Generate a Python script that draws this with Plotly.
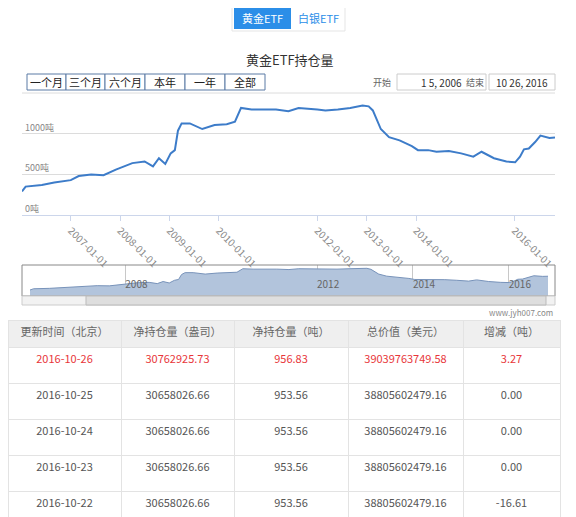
import plotly.graph_objects as go

dates = ["2006-01-05","2006-02-01","2006-06-01","2006-09-01","2007-01-01","2007-03-01","2007-06-01","2007-09-01",
 "2007-12-01","2008-02-01","2008-04-01","2008-07-01","2008-09-01","2008-10-15","2008-12-01","2009-01-10","2009-02-10",
 "2009-03-05","2009-04-01","2009-06-01","2009-09-01","2009-12-01","2010-03-01","2010-05-01","2010-06-15","2010-09-01",
 "2011-03-01","2011-06-01","2011-08-15","2012-01-01","2012-03-01","2012-06-01","2012-09-01","2012-12-01","2013-01-15",
 "2013-02-15","2013-04-15","2013-06-15","2013-09-01","2013-12-01","2014-01-15","2014-04-01","2014-06-01","2014-09-01",
 "2014-12-01","2015-03-01","2015-05-01","2015-08-01","2015-11-01","2016-01-05","2016-02-10","2016-03-10","2016-04-15",
 "2016-06-01","2016-07-10","2016-09-15","2016-10-26"]
values = [290,350,370,400,430,480,500,490,560,600,640,660,600,700,630,760,800,1040,1130,1130,1060,1110,1120,1150,
 1320,1300,1300,1280,1320,1300,1290,1300,1320,1350,1340,1290,1060,960,920,850,800,800,780,790,760,720,780,700,660,
 650,720,810,820,900,980,950,957]
tick_dates = ["2007-01-01","2008-01-01","2009-01-01","2010-01-01","2012-01-01","2013-01-01","2014-01-01","2016-01-01"]
y_ticks = [0, 500, 1000]
y_labels = ["0吨", "500吨", "1000吨"]
nav_ticks = ["2006-01-01","2008-01-01","2012-01-01","2014-01-01","2016-01-01"]
nav_labels = ["2006","2008","2012","2014","2016"]
headers = ["更新时间（北京）","净持仓量（盎司）","净持仓量（吨）","总价值（美元）","增减（吨）"]
col_date = ["2016-10-26","2016-10-25","2016-10-24","2016-10-23","2016-10-22"]
col_oz = ["30762925.73","30658026.66","30658026.66","30658026.66","30658026.66"]
col_t = ["956.83","953.56","953.56","953.56","953.56"]
col_usd = ["39039763749.58","38805602479.16","38805602479.16","38805602479.16","38805602479.16"]
col_chg = ["3.27","0.00","0.00","0.00","-16.61"]

OFF = 8
W, H = 576 - 2 * OFF, 517 - OFF
def py(v): return 1 - (v - OFF) / H
def px(v): return (v - OFF) / W

fig = go.Figure()
fig.add_trace(go.Scatter(x=dates, y=values, mode="lines", line=dict(color="#3d7cc9", width=2),
                         xaxis="x", yaxis="y", showlegend=False))
fig.add_trace(go.Scatter(x=dates, y=values, mode="lines", fill="tozeroy", fillcolor="#b2c4dc",
                         line=dict(color="#7893ba", width=1), xaxis="x2", yaxis="y2", showlegend=False))
font_color = ["#e8363a"] + ["#555"] * 4
fig.add_trace(go.Table(
    domain=dict(x=[0, px(560)], y=[0, py(320)]),
    columnwidth=[113, 113, 114, 115, 97],
    header=dict(values=headers, fill_color="#efefef", line_color="#e3e3e3", height=27,
                font=dict(size=11, color="#666", family="Noto Sans CJK SC")),
    cells=dict(values=[col_date, col_oz, col_t, col_usd, col_chg], fill_color="white", line_color="#e3e3e3",
               height=36, font=dict(size=11, color=[font_color] * 5, family="Noto Sans CJK SC"))))

fig.update_layout(
    width=W, height=H, margin=dict(l=0, r=0, t=0, b=0), paper_bgcolor="white", plot_bgcolor="white",
    font=dict(family="Noto Sans CJK SC", color="#666"),
    xaxis=dict(domain=[px(22), px(555)], type="date", range=["2006-01-05", "2016-10-26"], tickvals=tick_dates,
               tickformat="%Y-%m-%d", tickangle=45, tickfont=dict(size=10, color="#888"), showgrid=False,
               showline=True, linecolor="#ccd6eb", ticks="outside", tickcolor="#ccd6eb", ticklen=5),
    yaxis=dict(domain=[py(215), py(95)], range=[0, 1480], tickvals=y_ticks, ticktext=y_labels,
               ticklabelposition="inside top", tickfont=dict(size=9, color="#888"), gridcolor="#dcdcdc",
               zeroline=False),
    xaxis2=dict(domain=[px(30), px(548)], anchor="y2", type="date", range=["2006-01-05", "2016-10-26"],
                tickvals=nav_ticks, ticktext=nav_labels, ticklabelposition="inside right",
                tickfont=dict(size=10, color="#666"), showgrid=True, gridcolor="#c8c8c8", showline=False),
    yaxis2=dict(domain=[py(296), py(265)], range=[0, 1500], visible=False),
)
shapes = [
    dict(type="rect", xref="paper", yref="paper", x0=px(232), x1=px(345), y0=py(31), y1=py(6),
         line=dict(color="#e5e5e5", width=1), fillcolor="white", layer="below"),
    dict(type="rect", xref="paper", yref="paper", x0=px(234), x1=px(291), y0=py(29), y1=py(8),
         line=dict(width=0), fillcolor="#2b8ee8"),
    dict(type="line", xref="paper", yref="paper", x0=px(22), x1=px(555), y0=py(93), y1=py(93),
         line=dict(color="#dcdcdc", width=1)),
    dict(type="rect", xref="paper", yref="paper", x0=px(22), x1=px(555), y0=py(296), y1=py(265),
         line=dict(color="#888", width=1)),
    dict(type="rect", xref="paper", yref="paper", x0=px(22), x1=px(555), y0=py(305), y1=py(296),
         line=dict(color="#ccc", width=1), fillcolor="#f2f2f2"),
    dict(type="rect", xref="paper", yref="paper", x0=px(86), x1=px(546), y0=py(305), y1=py(296),
         line=dict(color="#bbb", width=1), fillcolor="#dedede"),
]
btns = [("一个月", 27, 66), ("三个月", 66, 105), ("六个月", 105, 145), ("本年", 145, 185), ("一年", 185, 225), ("全部", 225, 265)]
ann = [
    dict(text="黄金ETF", x=px(262), y=py(18), font=dict(size=11, color="white")),
    dict(text="白银ETF", x=px(318), y=py(18), font=dict(size=11, color="#2b8ee8")),
    dict(text="黄金ETF持仓量", x=px(290), y=py(59), font=dict(size=13, color="#333")),
    dict(text="开始", x=px(382), y=py(82), font=dict(size=9, color="#666")),
    dict(text="1 5, 2006", x=px(441), y=py(82), font=dict(size=10, color="#333")),
    dict(text="结束", x=px(475), y=py(82), font=dict(size=9, color="#666")),
    dict(text="10 26, 2016", x=px(522), y=py(82), font=dict(size=10, color="#333")),
    dict(text="www.jyh007.com", x=px(555), y=py(312), xanchor="right", font=dict(size=8, color="#888")),
]
for t, a, b in btns:
    shapes.append(dict(type="rect", xref="paper", yref="paper", x0=px(a), x1=px(b), y0=py(90), y1=py(74),
                       line=dict(color="#5a7ba5", width=1), fillcolor="white"))
    ann.append(dict(text=t, x=px((a + b) / 2), y=py(82), font=dict(size=11, color="#222")))
for x0, x1 in [(397, 486), (489, 555)]:
    shapes.append(dict(type="rect", xref="paper", yref="paper", x0=px(x0), x1=px(x1), y0=py(90), y1=py(74),
                       line=dict(color="#ccc", width=1), fillcolor="white"))
for a in ann:
    a.update(xref="paper", yref="paper", showarrow=False, yanchor="middle")
    a.setdefault("xanchor", "center")
fig.update_layout(shapes=shapes, annotations=ann)
fig.write_html("out.html")
